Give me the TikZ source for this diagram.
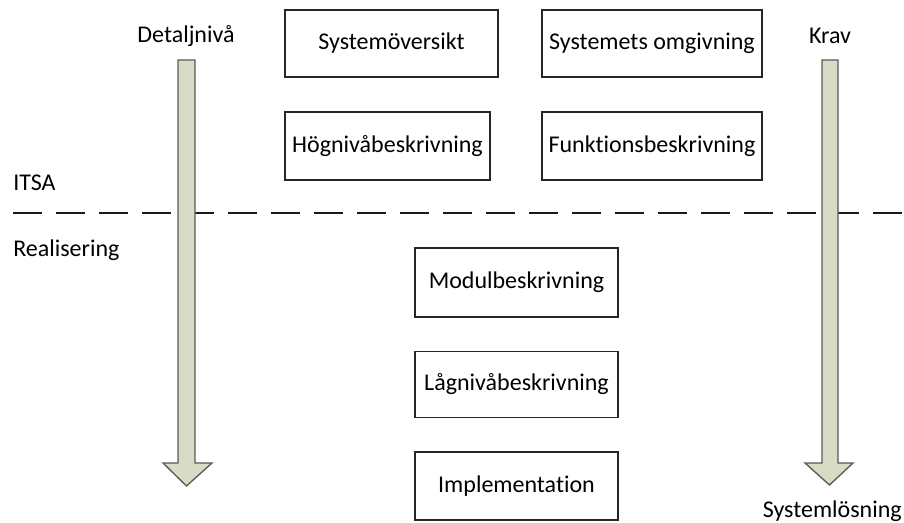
\documentclass[tikz,border=0pt]{standalone}
\usepackage{fontspec}
\setmainfont{Carlito}[Ligatures=NoCommon]
\begin{document}
\begin{tikzpicture}[x=0.75pt,y=-0.75pt,
  box/.style={draw=black!85,line width=0.8pt,fill=white,inner sep=0pt,font=\fontsize{18}{21}\selectfont},
  lbl/.style={inner sep=0pt,font=\fontsize{18}{21}\selectfont},
  blockarrow/.style={draw=black!65,line width=1pt,fill={rgb,255:red,216;green,220;blue,196},line join=miter},
  sep/.style={draw=black!90,line width=1.5pt,dash pattern=on 21.75pt off 10.5pt}]
\useasboundingbox (0,0) rectangle (904,522);
% separator
\coordinate (sL) at (13,213);
\coordinate (sR) at (904,213);
\draw[sep] (sL) -- (sR);
% left arrow
\draw[blockarrow] (178,60) -- (195,60) -- (195,463) -- (212,463) -- (186.5,486) -- (163,463) -- (178,463) -- cycle;
% right arrow
\draw[blockarrow] (822,60) -- (838,60) -- (838,463) -- (853,463) -- (829.5,485) -- (805,463) -- (822,463) -- cycle;
% boxes
\node[box,minimum width=159.75pt,minimum height=50.25pt] (b1) at (391.5,43.5) {Systemöversikt};
\node[box,minimum width=165pt,minimum height=50.25pt] (b2) at (652,43.5) {Systemets omgivning};
\node[box,minimum width=153.75pt,minimum height=51pt] (b3) at (387.5,146) {Högnivåbeskrivning};
\node[box,minimum width=165pt,minimum height=51pt] (b4) at (652,146) {Funktionsbeskrivning};
\node[box,minimum width=152.25pt,minimum height=51.75pt] (b5) at (516.5,282.5) {Modulbeskrivning};
\node[box,minimum width=152.25pt,minimum height=49.5pt] (b6) at (516.5,384.5) {Lågnivåbeskrivning};
\node[box,minimum width=152.25pt,minimum height=51pt] (b7) at (516.5,486) {Implementation};
% labels
\node[lbl] (detalj) at (186,36) {Detaljnivå};
\node[lbl] (krav) at (830,36) {Krav};
\node[lbl,anchor=west] (itsa) at (13,183) {ITSA};
\node[lbl,anchor=west] (real) at (13,250) {Realisering};
\node[lbl,anchor=east] (sysl) at (902,511) {Systemlösning};
\end{tikzpicture}
\end{document}
